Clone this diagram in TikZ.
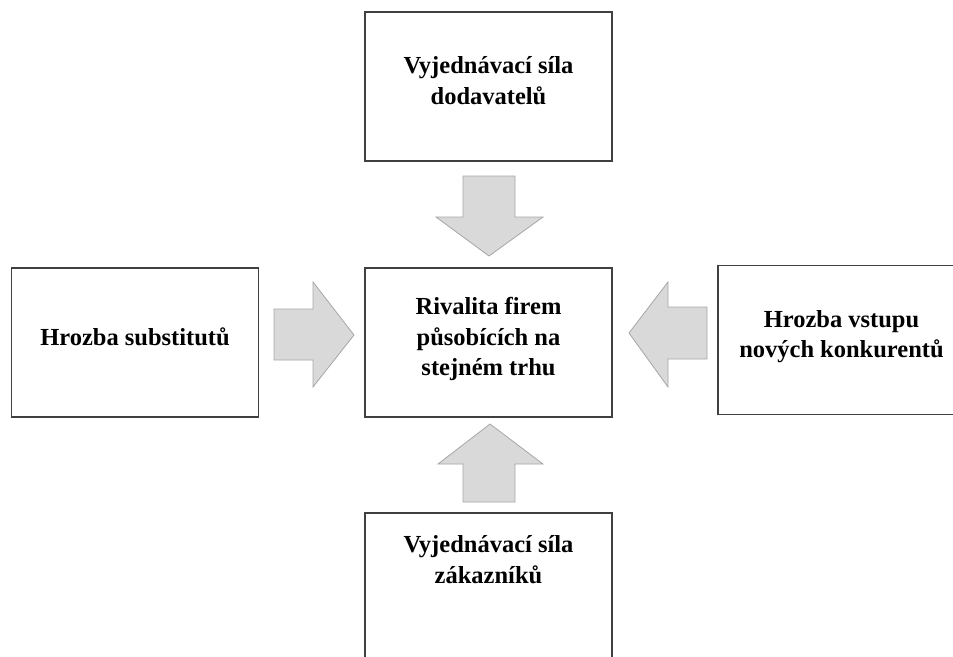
\documentclass[tikz,border=0pt]{standalone}
\usepackage{fontspec}
\setmainfont{Liberation Serif}
\usetikzlibrary{positioning}
\definecolor{BoxLine}{RGB}{64,64,64}
\definecolor{ArrowFill}{RGB}{217,217,217}
\definecolor{ArrowLine}{RGB}{166,166,166}

\tikzset{
  force/.style={draw=BoxLine, line width=1.4pt, fill=white, minimum width=247pt,
    minimum height=149pt, align=center, text depth=12pt,
    font=\fontsize{24.5}{30.5}\selectfont\bfseries},
  blockarrow/.style={draw=ArrowLine, line width=0.8pt, fill=ArrowFill, line join=miter}
}

\begin{document}
\begin{tikzpicture}[x=1pt, y=-1pt]
    \useasboundingbox (0,0) rectangle (953,656);
    \clip (0,0) rectangle (953,656);
    % Draw boxes
    \node[force] (rival) at (488.5,342.5) {Rivalita firem\\ působících na\\ stejném trhu};
    \node[force] (supply) at (488.5,86.5) {Vyjednávací síla\\ dodavatelů};
    \node[force] (subst) at (135,342.5) {Hrozba substitutů};
    \node[force] (entry) at (841.5,340) {Hrozba vstupu\\ nových konkurentů};
    \node[force, text depth=56pt] (buyers) at (488.5,587.5) {Vyjednávací síla\\ zákazníků};
    % Draw block arrows
    \draw[blockarrow] (463,176) -- (515,176) -- (515,217) -- (543,217) -- (489,256)
        -- (436,217) -- (463,217) -- cycle;
    \draw[blockarrow] (274,309) -- (313,309) -- (313,282) -- (354,335) -- (313,387)
        -- (313,360) -- (274,360) -- cycle;
    \draw[blockarrow] (707,307) -- (668,307) -- (668,282) -- (629,333) -- (668,387)
        -- (668,359) -- (707,359) -- cycle;
    \draw[blockarrow] (463,502) -- (515,502) -- (515,464) -- (543,464) -- (490,424)
        -- (438,464) -- (463,464) -- cycle;
\end{tikzpicture}
\end{document}
